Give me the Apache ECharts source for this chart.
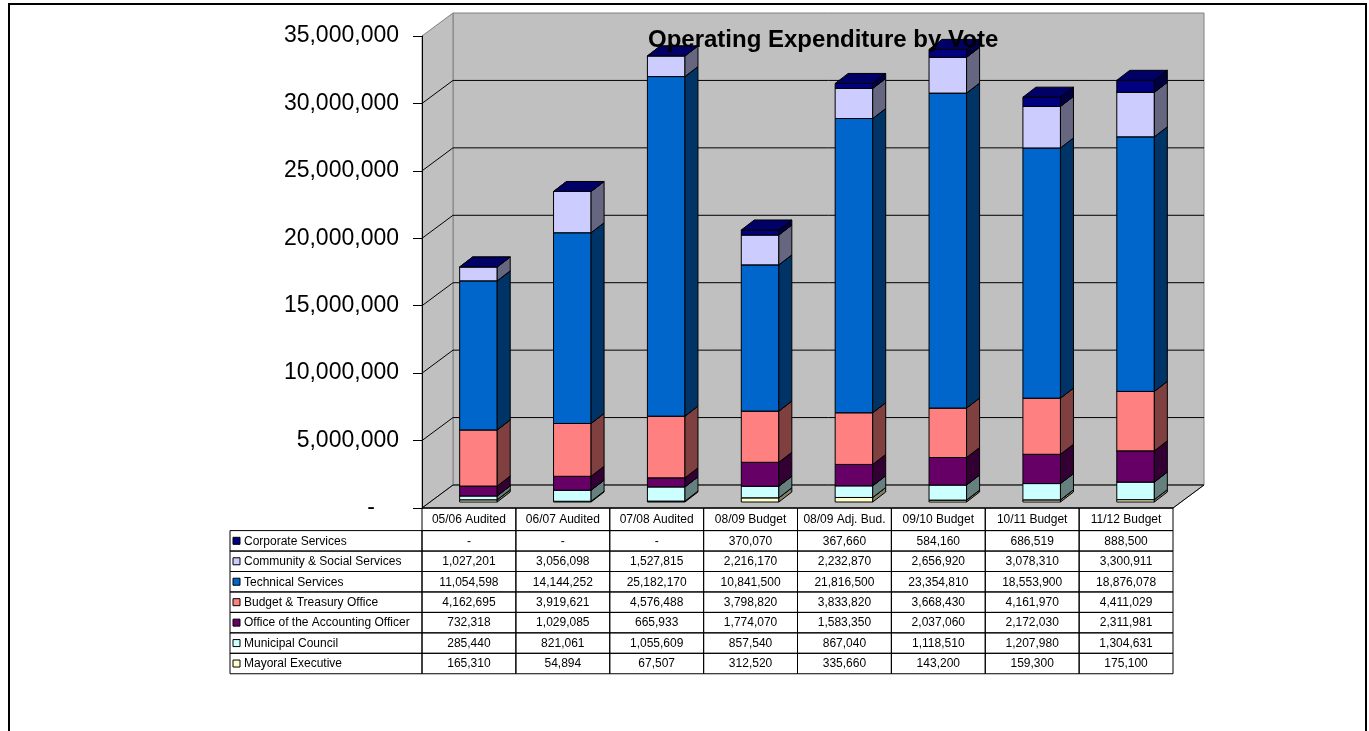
<!DOCTYPE html>
<html>
<head>
<meta charset="utf-8">
<script src="https://cdn.jsdelivr.net/npm/echarts@6/dist/echarts.min.js"></script>
<style>
html, body { margin: 0; padding: 0; background: #fff; }
#chart { width: 1369px; height: 731px; }
</style>
</head>
<body>
<div id="chart"></div>
<script>
// Financial years shown along the x axis and as the table header
const categories = ['05/06 Audited', '06/07 Audited', '07/08 Audited', '08/09 Budget',
  '08/09 Adj. Bud.', '09/10 Budget', '10/11 Budget', '11/12 Budget'];

// Expenditure per vote (Rand), one value per financial year
const mayoralExecutive  = [165310, 54894, 67507, 312520, 335660, 143200, 159300, 175100];
const municipalCouncil  = [285440, 821061, 1055609, 857540, 867040, 1118510, 1207980, 1304631];
const accountingOfficer = [732318, 1029085, 665933, 1774070, 1583350, 2037060, 2172030, 2311981];
const budgetTreasury    = [4162695, 3919621, 4576488, 3798820, 3833820, 3668430, 4161970, 4411029];
const technicalServices = [11054598, 14144252, 25182170, 10841500, 21816500, 23354810, 18553900, 18876078];
const communitySocial   = [1027201, 3056098, 1527815, 2216170, 2232870, 2656920, 3078310, 3300911];
const corporateServices = [0, 0, 0, 370070, 367660, 584160, 686519, 888500];

// Votes in stacking order, bottom to top
const voteNames = ['Mayoral Executive', 'Municipal Council', 'Office of the Accounting Officer',
  'Budget & Treasury Office', 'Technical Services', 'Community & Social Services', 'Corporate Services'];
const voteValues = [mayoralExecutive, municipalCouncil, accountingOfficer, budgetTreasury,
  technicalServices, communitySocial, corporateServices];

// Value axis range
const Y_MIN = 0, Y_MAX = 35000000, Y_STEP = 5000000;

// ---- styling ----
const FONT = '"Liberation Sans", Arial, sans-serif';
const voteColors = ['#FFFFCC', '#CCFFFF', '#660066', '#FF8080', '#0066CC', '#CCCCFF', '#000080'];
const WALL_DEPTH = [31, -23];   // offset of the back wall from the front plane
const BAR_SHIFT = [9.5, -6];    // bar front face sits a little behind the front plane
const BAR_DEPTH = [13, -10];    // visible depth of each column
const BAR_RATIO = 0.4;          // column width as a share of the category band
const HEADER_H = 22.6;          // data table header row height
const ROW_H = 20.45;            // data table body row height
const LEGEND_W = 192;           // width of the legend column of the table

function shade(hex, f) {
  const n = parseInt(hex.slice(1), 16);
  const r = Math.round(((n >> 16) & 255) * f);
  const g = Math.round(((n >> 8) & 255) * f);
  const b = Math.round((n & 255) * f);
  return 'rgb(' + r + ',' + g + ',' + b + ')';
}
function fmtNum(v) {
  return v === 0 ? '-' : v.toLocaleString('en-US');
}

// ---- back wall, side wall, floor and gridlines ----
function renderWalls(params, api) {
  const bw = api.size([1, 0])[0];
  const first = api.coord([0, Y_MIN]);
  const last = api.coord([categories.length - 1, Y_MIN]);
  const topPt = api.coord([0, Y_MAX]);
  const L = first[0] - bw / 2, R = last[0] + bw / 2, y0 = first[1], yT = topPt[1];
  const wx = WALL_DEPTH[0], wy = WALL_DEPTH[1];
  const wallStyle = { fill: '#C0C0C0', stroke: '#808080', lineWidth: 1 };
  const children = [
    { type: 'polygon', shape: { points: [[L + wx, yT + wy], [R + wx, yT + wy], [R + wx, y0 + wy], [L + wx, y0 + wy]] }, style: wallStyle },
    { type: 'polygon', shape: { points: [[L, yT], [L + wx, yT + wy], [L + wx, y0 + wy], [L, y0]] }, style: wallStyle },
    { type: 'polygon', shape: { points: [[L, y0], [L + wx, y0 + wy], [R + wx, y0 + wy], [R, y0]] }, style: wallStyle }
  ];
  for (let v = Y_MIN; v < Y_MAX; v += Y_STEP) {
    const y = api.coord([0, v])[1];
    children.push({ type: 'line', shape: { x1: L + wx, y1: y + wy, x2: R + wx, y2: y + wy }, style: { stroke: '#000', lineWidth: 1 } });
    children.push({ type: 'line', shape: { x1: L, y1: y, x2: L + wx, y2: y + wy }, style: { stroke: '#000', lineWidth: 1 } });
  }
  children.push({ type: 'line', shape: { x1: L, y1: y0, x2: R, y2: y0 }, style: { stroke: '#000', lineWidth: 1 } });
  children.push({ type: 'line', shape: { x1: R, y1: y0, x2: R + wx, y2: y0 + wy }, style: { stroke: '#000', lineWidth: 1 } });
  return { type: 'group', children: children };
}

// ---- 3D-looking stacked column segment ----
function makeBarRenderer(color) {
  const sideColor = shade(color, 0.5);
  const topColor = shade(color, 0.8);
  return function (params, api) {
    const i = api.value(0), lo = api.value(1), hi = api.value(2);
    const bw = api.size([1, 0])[0];
    const pLo = api.coord([i, lo]), pHi = api.coord([i, hi]);
    const w = bw * BAR_RATIO;
    const x0 = pLo[0] + BAR_SHIFT[0] - w / 2, x1 = x0 + w;
    const yb = pLo[1] + BAR_SHIFT[1], yt = pHi[1] + BAR_SHIFT[1];
    const dx = BAR_DEPTH[0], dy = BAR_DEPTH[1];
    const edge = { stroke: '#000', lineWidth: 1, lineJoin: 'round' };
    const children = [];
    if (yb - yt > 0.01) {
      children.push({ type: 'polygon', shape: { points: [[x0, yb], [x1, yb], [x1, yt], [x0, yt]] }, style: Object.assign({ fill: color }, edge) });
      children.push({ type: 'polygon', shape: { points: [[x1, yb], [x1 + dx, yb + dy], [x1 + dx, yt + dy], [x1, yt]] }, style: Object.assign({ fill: sideColor }, edge) });
    }
    children.push({ type: 'polygon', shape: { points: [[x0, yt], [x1, yt], [x1 + dx, yt + dy], [x0 + dx, yt + dy]] }, style: Object.assign({ fill: topColor }, edge) });
    return { type: 'group', children: children };
  };
}

// ---- data table body ----
function renderTableCell(params, api) {
  const i = api.value(0), r = api.value(1), v = api.value(2);
  const bw = api.size([1, 0])[0];
  const base = api.coord([i, Y_MIN]);
  const xL = base[0] - bw / 2;
  const yTop = base[1] + HEADER_H + r * ROW_H;
  const children = [
    { type: 'rect', shape: { x: xL, y: yTop, width: bw, height: ROW_H }, style: { fill: 'none', stroke: '#000', lineWidth: 1 } },
    { type: 'text', x: base[0], y: yTop + ROW_H / 2 + 0.5,
      style: { text: fmtNum(v), align: 'center', verticalAlign: 'middle', fontSize: 12, fontFamily: FONT, fill: '#000' } }
  ];
  if (r === 0) {
    children.push({ type: 'rect', shape: { x: xL, y: base[1], width: bw, height: HEADER_H }, style: { fill: 'none', stroke: '#000', lineWidth: 1 } });
  }
  return { type: 'group', children: children };
}

function renderLegendCell(params, api) {
  const r = api.value(1);
  const bw = api.size([1, 0])[0];
  const base = api.coord([0, Y_MIN]);
  const xR = base[0] - bw / 2;
  const xL = xR - LEGEND_W;
  const yTop = base[1] + HEADER_H + r * ROW_H;
  const k = voteNames.length - 1 - r;
  return { type: 'group', children: [
    { type: 'rect', shape: { x: xL, y: yTop, width: LEGEND_W, height: ROW_H }, style: { fill: 'none', stroke: '#000', lineWidth: 1 } },
    { type: 'rect', shape: { x: xL + 3, y: yTop + ROW_H / 2 - 3.5, width: 7, height: 7 }, style: { fill: voteColors[k], stroke: '#000', lineWidth: 1 } },
    { type: 'text', x: xL + 14, y: yTop + ROW_H / 2 + 0.5,
      style: { text: voteNames[k], align: 'left', verticalAlign: 'middle', fontSize: 12, fontFamily: FONT, fill: '#000' } }
  ] };
}

// ---- assemble series ----
const series = [];
series.push({ type: 'custom', name: 'walls', z: 1, silent: true, data: [[0, 0]], renderItem: renderWalls });

const running = categories.map(() => 0);
voteValues.forEach(function (vals, k) {
  const data = vals.map(function (v, i) {
    const lo = running[i];
    running[i] = lo + v;
    return [i, lo, lo + v, v];
  });
  series.push({ type: 'custom', name: voteNames[k], z: 2, silent: true, data: data,
    encode: { x: 0, y: [1, 2] }, renderItem: makeBarRenderer(voteColors[k]) });
});

const tableData = [];
const legendData = [];
for (let r = 0; r < voteNames.length; r++) {
  const vals = voteValues[voteNames.length - 1 - r];
  categories.forEach(function (c, i) { tableData.push([i, r, vals[i]]); });
  legendData.push([0, r]);
}
series.push({ type: 'custom', name: 'table', z: 3, silent: true, data: tableData,
  encode: { x: 0, y: 1 }, renderItem: renderTableCell });
series.push({ type: 'custom', name: 'legend', z: 3, silent: true, data: legendData,
  encode: { x: 0, y: 1 }, renderItem: renderLegendCell });

const chart = echarts.init(document.getElementById('chart'), null, { renderer: 'canvas' });
chart.setOption({
  animation: false,
  backgroundColor: '#fff',
  title: {
    text: 'Operating Expenditure by Vote',
    left: 648, top: 28, padding: 0,
    textStyle: { fontSize: 24, fontWeight: 'bold', fontFamily: FONT, color: '#000' }
  },
  grid: { left: 422, top: 36, width: 751, height: 472, outerBoundsMode: 'none' },
  xAxis: {
    type: 'category', data: categories, boundaryGap: true,
    axisLine: { show: false }, axisTick: { show: false }, splitLine: { show: false },
    axisLabel: { interval: 0, margin: 6, fontSize: 12, fontFamily: FONT, color: '#000' }
  },
  yAxis: {
    type: 'value', min: Y_MIN, max: Y_MAX, interval: Y_STEP, z: 5,
    axisLine: { show: true, lineStyle: { color: '#000', width: 1 } },
    axisTick: { show: true, inside: false, length: 9, lineStyle: { color: '#000' } },
    splitLine: { show: false },
    axisLabel: {
      margin: 23, fontSize: 23, fontFamily: FONT, color: '#000',
      formatter: function (v) { return v === 0 ? '{d|-}' : v.toLocaleString('en-US'); },
      rich: { d: { fontSize: 23, fontFamily: FONT, color: '#000', padding: [0, 24, 0, 0] } }
    }
  },
  graphic: [{
    type: 'rect', z: 0, silent: true,
    shape: { x: 9, y: 4, width: 1357, height: 800 },
    style: { fill: 'none', stroke: '#000', lineWidth: 2 }
  }],
  series: series
});
</script>
</body>
</html>
